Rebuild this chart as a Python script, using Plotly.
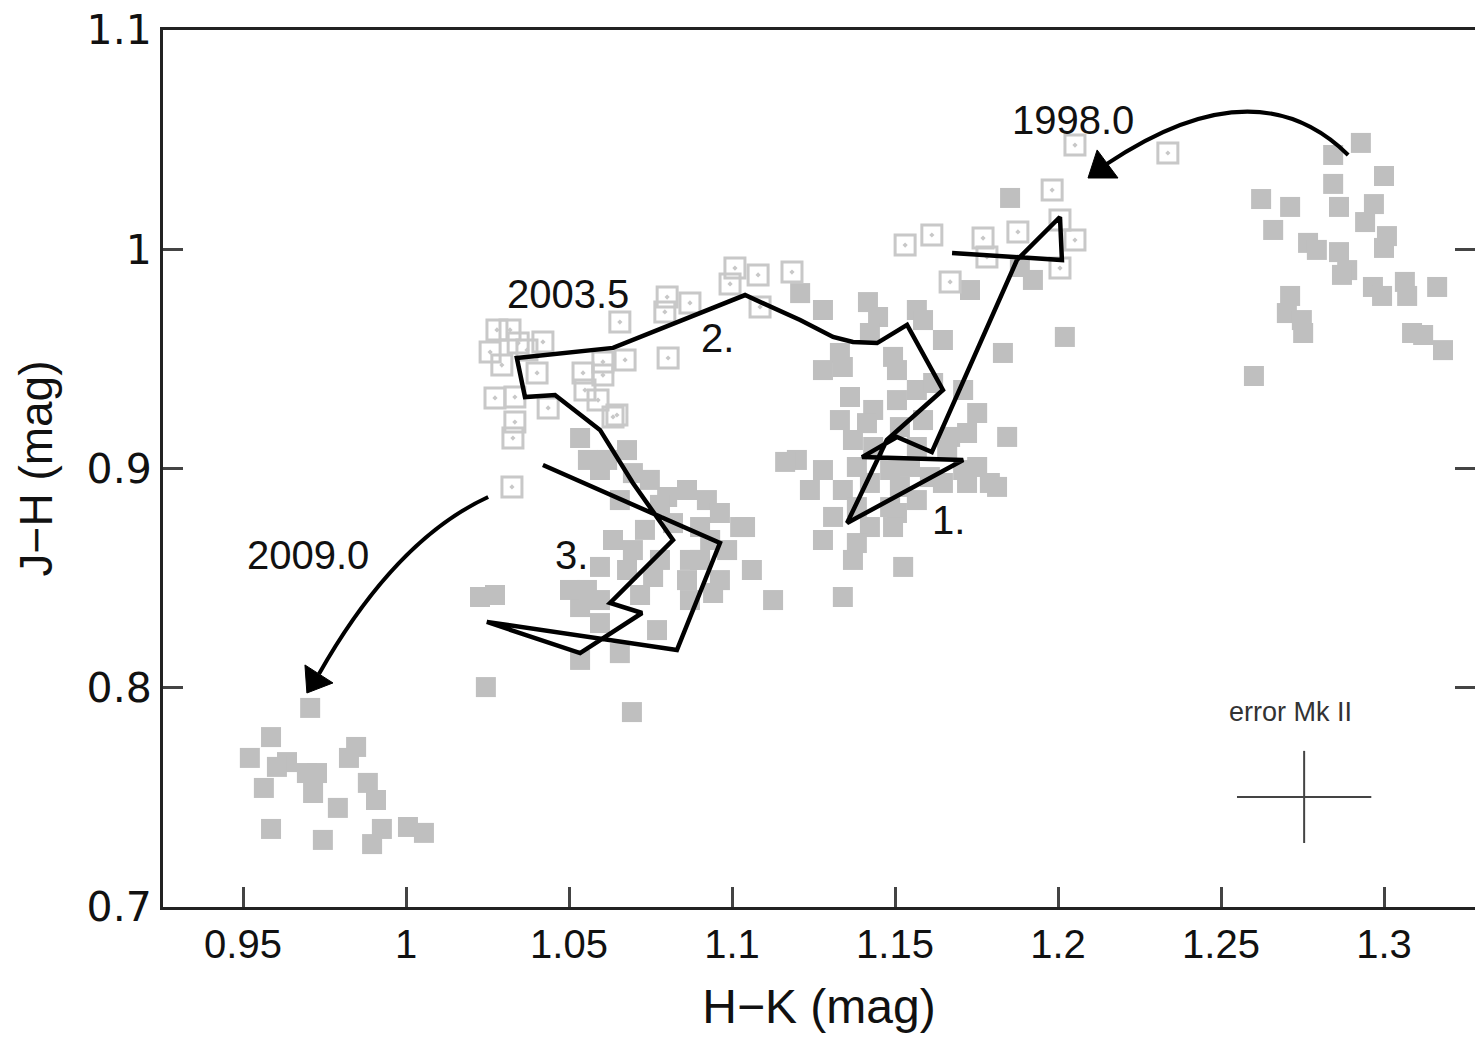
import plotly.graph_objects as go

# ---- data (H-K, J-H) ----
filled_hk = [1.2929, 1.2844, 1.3000, 1.2844, 1.2623, 1.2712, 1.2862, 1.2969, 1.2942, 1.2660,
             1.3009, 1.3000, 1.2767, 1.2794, 1.2862, 1.2887, 1.2871, 1.2712, 1.2702, 1.2748,
             1.2752, 1.2966, 1.2994, 1.3064, 1.3071, 1.3163, 1.3086, 1.3120, 1.3181, 1.2601,
             1.2021,
             0.9706, 0.9586, 0.9521, 0.9635, 0.9604, 0.9847, 0.9825, 0.9696, 0.9727, 0.9564,
             0.9715, 0.9883, 0.9908, 0.9791, 0.9586, 0.9745, 0.9926, 0.9896, 1.0006, 1.0055,
             1.0245,
             1.0534, 1.0558, 1.0617, 1.0678, 1.0696, 1.0748, 1.0595, 1.0801, 1.0862, 1.0923,
             1.0963, 1.1040, 1.0819, 1.0902, 1.0985, 1.1061, 1.0696, 1.0635, 1.0595, 1.0555,
             1.0678, 1.0758, 1.0862, 1.0942, 1.0871, 1.1126, 1.0770, 1.0656, 1.0534, 1.0534,
             1.0595, 1.0227, 1.0273, 1.0693, 1.0779, 1.0933, 1.0871, 1.1025, 1.0503,
             1.0656, 1.0733, 1.0902, 1.0779, 1.0595, 1.0963, 1.0718,
             1.1209, 1.1279, 1.1417, 1.1448, 1.1567, 1.1586, 1.1647, 1.1730, 1.1831, 1.1423,
             1.1494, 1.1506, 1.1331, 1.1279, 1.1340, 1.1362, 1.1331, 1.1433, 1.1506, 1.1567,
             1.1617, 1.1709, 1.1752, 1.1721, 1.1844, 1.1669, 1.1586, 1.1515, 1.1414, 1.1371,
             1.1433, 1.1567, 1.1660, 1.1709, 1.1752, 1.1791, 1.1721, 1.1647, 1.1607, 1.1546,
             1.1485, 1.1383, 1.1279, 1.1199, 1.1239, 1.1340, 1.1423, 1.1515, 1.1567, 1.1485,
             1.1383, 1.1310, 1.1423, 1.1279, 1.1383, 1.1371, 1.1525, 1.1506, 1.1494, 1.1813,
             1.1340, 1.1163, 1.1853, 1.1923, 1.1883]
filled_jh = [1.0485, 1.0430, 1.0334, 1.0298, 1.0229, 1.0193, 1.0193, 1.0206, 1.0124, 1.0088,
             1.0060, 1.0006, 1.0029, 0.9997, 0.9987, 0.9905, 0.9883, 0.9787, 0.9709, 0.9677,
             0.9618, 0.9828, 0.9787, 0.9851, 0.9787, 0.9828, 0.9618, 0.9609, 0.9540, 0.9422,
             0.9600,
             0.7908, 0.7775, 0.7680, 0.7661, 0.7639, 0.7730, 0.7680, 0.7611, 0.7611, 0.7543,
             0.7520, 0.7566, 0.7488, 0.7452, 0.7356, 0.7306, 0.7356, 0.7287, 0.7365, 0.7338,
             0.8003,
             0.9139, 0.9039, 0.9039, 0.9084, 0.8979, 0.8948, 0.8993, 0.8870, 0.8902, 0.8856,
             0.8797, 0.8733, 0.8751, 0.8733, 0.8628, 0.8537, 0.8628, 0.8674, 0.8551, 0.8446,
             0.8537, 0.8505, 0.8491, 0.8432, 0.8400, 0.8400, 0.8263, 0.8158, 0.8127, 0.8368,
             0.8295, 0.8414, 0.8423, 0.7889, 0.8834, 0.8674, 0.8583, 0.8733, 0.8446,
             0.8856, 0.8720, 0.8583, 0.8583, 0.8400, 0.8491, 0.8423,
             0.9800, 0.9723, 0.9759, 0.9691, 0.9723, 0.9677, 0.9586, 0.9814, 0.9527, 0.9618,
             0.9509, 0.9449, 0.9527, 0.9449, 0.9463, 0.9326, 0.9221, 0.9267, 0.9312, 0.9358,
             0.9390, 0.9358, 0.9253, 0.9162, 0.9144, 0.9144, 0.9221, 0.9189, 0.9207, 0.9130,
             0.9098, 0.9098, 0.9084, 0.8993, 0.9007, 0.8934, 0.8934, 0.8934, 0.8961, 0.9007,
             0.8993, 0.9007, 0.8993, 0.9039, 0.8902, 0.8902, 0.8934, 0.8916, 0.8856, 0.8824,
             0.8824, 0.8779, 0.8733, 0.8674, 0.8660, 0.8583, 0.8551, 0.8797, 0.8733, 0.8916,
             0.8414, 0.9030, 1.0234, 0.9860, 0.9919]

open_hk = [1.2052, 1.2337, 1.1982, 1.1877, 1.2052, 1.2006, 1.1770, 1.1782, 1.2006, 1.1531,
           1.1613, 1.1669, 1.1184, 1.1080, 1.1009, 1.0994, 1.0871, 1.0801, 1.0794, 1.0804,
           1.0672, 1.0656, 1.0635, 1.1086, 1.0319, 1.0344, 1.0420, 1.0294, 1.0273, 1.0334,
           1.0334, 1.0328, 1.0325, 1.0604, 1.0543, 1.0604, 1.0549, 1.0589, 1.0647, 1.0436,
           1.0402, 1.0371, 1.0258, 1.0279]
open_jh = [1.0475, 1.0439, 1.0270, 1.0079, 1.0042, 1.0133, 1.0051, 0.9965, 0.9914, 1.0019,
           1.0065, 0.9851, 0.9896, 0.9883, 0.9914, 0.9842, 0.9755, 0.9782, 0.9714, 0.9504,
           0.9495, 0.9668, 0.9235, 0.9737, 0.9632, 0.9572, 0.9577, 0.9472, 0.9322, 0.9326,
           0.9212, 0.9139, 0.8916, 0.9486, 0.9436, 0.9426, 0.9358, 0.9312, 0.9244, 0.9276,
           0.9436, 0.9540, 0.9531, 0.9632]

track_hk = [1.1675, 1.2012, 1.2006, 1.1874, 1.1613, 1.1506, 1.1399, 1.1709, 1.1353, 1.1475,
            1.1647, 1.1537, 1.1445, 1.1371, 1.1310, 1.1209, 1.1040, 1.0635, 1.0340, 1.0365,
            1.0457, 1.0595, 1.0696, 1.0819, 1.0626, 1.0724, 1.0534, 1.0248, 1.0831, 1.0963,
            1.0420]
track_jh = [0.9983, 0.9951, 1.0147, 0.9951, 0.9075, 0.9144, 0.9052, 0.9039, 0.8751, 0.9130,
            0.9358, 0.9655, 0.9572, 0.9577, 0.9600, 0.9677, 0.9791, 0.9550, 0.9504, 0.9326,
            0.9335, 0.9176, 0.8934, 0.8674, 0.8387, 0.8341, 0.8158, 0.8300, 0.8172, 0.8660,
            0.9016]

err_center = [1.2755, 0.7502]
err_size = [0.0206, 0.0210]

x_ticks = [0.95, 1.0, 1.05, 1.1, 1.15, 1.2, 1.25, 1.3]
x_ticklabels = ["0.95", "1", "1.05", "1.1", "1.15", "1.2", "1.25", "1.3"]
y_ticks = [0.7, 0.8, 0.9, 1.0, 1.1]
y_ticklabels = ["0.7", "0.8", "0.9", "1", "1.1"]

labels = [
    ("1998.0", 1.2046, 1.0590),
    ("2003.5", 1.0497, 0.9796),
    ("2009.0", 0.9699, 0.8605),
    ("1.", 1.1663, 0.8765),
    ("2.", 1.0957, 0.9595),
    ("3.", 1.0509, 0.8605),
]

FONT = "Liberation Sans, Arial, Helvetica, sans-serif"
YFONT = "DejaVu Sans, Liberation Sans, sans-serif"
XR = [0.92546, 1.32791]
YR = [0.7, 1.1]

fig = go.Figure()
fig.add_trace(go.Scatter(x=filled_hk, y=filled_jh, mode="markers",
                         marker=dict(symbol="square", size=20, color="#bfbfbf",
                                     line=dict(width=0)),
                         hoverinfo="skip", showlegend=False))
fig.add_trace(go.Scatter(x=open_hk, y=open_jh, mode="markers",
                         marker=dict(symbol="square-open-dot", size=20, color="#c8c8c8",
                                     line=dict(width=3, color="#c8c8c8")),
                         hoverinfo="skip", showlegend=False))
fig.add_trace(go.Scatter(x=track_hk, y=track_jh, mode="lines",
                         line=dict(color="black", width=4.5),
                         hoverinfo="skip", showlegend=False))
fig.add_trace(go.Scatter(x=[err_center[0]], y=[err_center[1]], mode="markers",
                         marker=dict(size=1, color="rgba(0,0,0,0)"),
                         error_x=dict(type="data", array=[err_size[0]], width=0,
                                      thickness=2, color="#444"),
                         error_y=dict(type="data", array=[err_size[1]], width=0,
                                      thickness=2, color="#444"),
                         yaxis="y2", hoverinfo="skip", showlegend=False))

# curved arrows
arrow_paths = [
    "M 1.2890,1.0430 Q 1.2607,1.0845 1.2150,1.0389",
    "M 1.0252,0.8870 Q 0.9966,0.8674 0.9733,0.8063",
]
heads = [
    "M 1.2092,1.0325 L 1.2120,1.0453 L 1.2184,1.0325 Z",
    "M 0.9696,0.7976 L 0.9690,0.8104 L 0.9776,0.8022 Z",
]
shapes = []
for p in arrow_paths:
    shapes.append(dict(type="path", path=p, xref="x", yref="y",
                       line=dict(color="black", width=4)))
for h in heads:
    shapes.append(dict(type="path", path=h, xref="x", yref="y",
                       fillcolor="black", line=dict(color="black", width=1)))

annotations = []
for t, x, y in labels:
    annotations.append(dict(text=t, x=x, y=y, xref="x", yref="y", showarrow=False,
                            font=dict(family=FONT, size=40, color="#111")))
annotations.append(dict(text="error Mk II", x=1.2712, y=0.7889, xref="x", yref="y",
                        showarrow=False, font=dict(family=FONT, size=27, color="#333")))

fig.update_layout(
    width=1475, height=1037, autosize=False,
    margin=dict(l=163, r=0, t=30, b=130),
    paper_bgcolor="white", plot_bgcolor="white",
    font=dict(family=FONT, color="#111"),
    shapes=shapes, annotations=annotations,
    xaxis=dict(range=XR, tickvals=x_ticks, ticktext=x_ticklabels,
               ticks="inside", ticklen=20, tickwidth=2.5, tickcolor="#444",
               showline=True, linewidth=3, linecolor="#222", mirror=True,
               showgrid=False, zeroline=False,
               tickfont=dict(family=FONT, size=40, color="#111"),
               title=dict(text="H\u2212K (mag)", font=dict(family=FONT, size=48, color="#111"),
                          standoff=25)),
    yaxis=dict(range=YR, tickvals=y_ticks, ticktext=y_ticklabels,
               ticks="inside", ticklen=20, tickwidth=2.5, tickcolor="#444",
               showline=True, linewidth=3, linecolor="#222", mirror=False,
               showgrid=False, zeroline=False,
               tickfont=dict(family=YFONT, size=41, color="#111"),
               title=dict(text="J\u2212H (mag)", font=dict(family=FONT, size=46, color="#111"),
                          standoff=20)),
    yaxis2=dict(range=YR, tickvals=y_ticks, overlaying="y", side="right", anchor="x",
                ticks="inside", ticklen=20, tickwidth=2.5, tickcolor="#444",
                showline=False, showgrid=False, zeroline=False, showticklabels=False),
)

fig.write_html("out.html")
